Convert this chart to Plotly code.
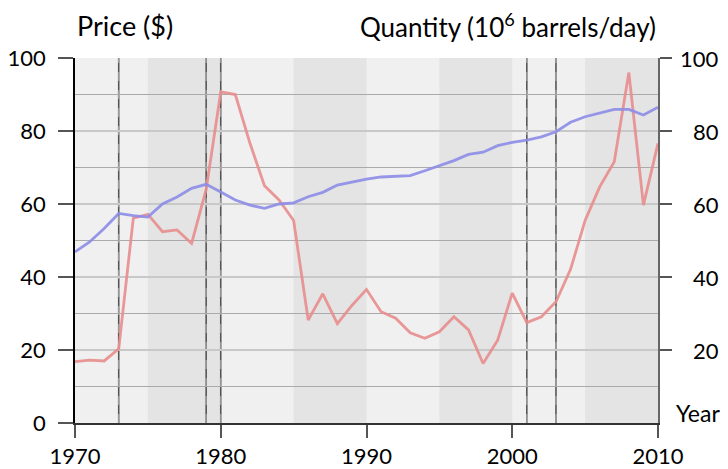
import plotly.graph_objects as go

years = list(range(1970, 2011))
price = [16.8, 17.2, 17.0, 20.3, 56.1, 57.2, 52.4, 52.9, 49.2, 64.0,
         90.7, 90.0, 76.7, 65.0, 61.1, 55.5, 28.2, 35.4, 27.2, 32.2,
         36.6, 30.5, 28.7, 24.7, 23.2, 25.0, 29.1, 25.5, 16.3, 22.7,
         35.6, 27.5, 29.1, 33.2, 42.1, 55.5, 64.7, 71.6, 96.0, 59.7,
         76.6]
quantity = [46.9, 49.6, 53.3, 57.4, 56.8, 56.4, 60.0, 61.9, 64.3, 65.4,
            63.3, 61.1, 59.7, 58.8, 60.0, 60.3, 62.0, 63.2, 65.2, 66.1,
            66.8, 67.4, 67.6, 67.8, 69.1, 70.5, 71.9, 73.6, 74.2, 76.0,
            76.9, 77.5, 78.4, 79.8, 82.4, 83.9, 85.0, 85.9, 85.9, 84.4,
            86.5]
band_starts = [1975, 1985, 1995, 2005]
band_width = 5
events = [1973, 1979, 1980, 2001, 2003]
y_ticks = [0, 20, 40, 60, 80, 100]
right_ticks = [20, 40, 60, 80, 100]
x_ticks = [1970, 1980, 1990, 2000, 2010]

FONT = "Lato"

fig = go.Figure()
fig.add_trace(go.Scatter(x=years, y=price, mode="lines",
                         line=dict(color="rgba(232,140,140,0.9)", width=2.8),
                         showlegend=False))
fig.add_trace(go.Scatter(x=years, y=quantity, mode="lines", yaxis="y2",
                         line=dict(color="rgba(140,140,232,0.9)", width=2.8),
                         showlegend=False))

shapes = []
for b in band_starts:
    shapes.append(dict(type="rect", xref="x", yref="paper", x0=b, x1=b + band_width,
                       y0=0, y1=1, fillcolor="#e4e4e4", line=dict(width=0), layer="below"))
for e in events:
    shapes.append(dict(type="line", xref="x", yref="paper", x0=e, x1=e, y0=0, y1=1,
                       line=dict(color="#555555", width=1.6), layer="between"))
    shapes.append(dict(type="line", xref="x", yref="paper", x0=e, x1=e, y0=0, y1=1,
                       line=dict(color="white", width=0.5, dash="dash"), layer="between"))

annotations = [
    dict(text="Price ($)", xref="paper", yref="paper", x=0, y=1.0, yshift=33,
         xanchor="left", yanchor="middle", showarrow=False,
         font=dict(size=27, color="black", family=FONT)),
    dict(text="Quantity (10<sup>6</sup> barrels/day)", xref="paper", yref="paper",
         x=1, y=1.0, yshift=33, xanchor="right", yanchor="middle", showarrow=False,
         font=dict(size=26, color="black", family=FONT)),
    dict(text="Year", xref="paper", yref="paper", x=1, y=0, xshift=64, yshift=10,
         xanchor="right", yanchor="middle", showarrow=False,
         font=dict(size=23, color="black", family=FONT)),
]
for t in right_ticks:
    annotations.append(dict(text=str(t), xref="paper", yref="y2", x=1, y=t,
                            xshift=63, xanchor="right", yanchor="middle", showarrow=False,
                            font=dict(size=22, color="black", family=FONT)))

# the page body adds an 8px offset, so the figure is sized to fit the 728x469 window
fig.update_layout(
    width=720, height=461,
    margin=dict(l=67, r=70, t=50, b=46, autoexpand=False),
    paper_bgcolor="white", plot_bgcolor="#f0f0f0",
    font=dict(family=FONT, size=22, color="black"),
    shapes=shapes, annotations=annotations,
    xaxis=dict(range=[1970, 2010], tickvals=x_ticks, ticks="outside", ticklen=13,
               tickwidth=1.5, tickcolor="#555555", showgrid=False, zeroline=False,
               showline=True, linecolor="#333333", linewidth=1.5, automargin=False,
               tickfont=dict(size=22, family=FONT, color="black")),
    yaxis=dict(range=[0, 100], tickvals=y_ticks, ticks="outside", ticklen=15,
               tickwidth=1.5, tickcolor="#555555", showline=True, linecolor="black",
               linewidth=1.5, zeroline=False, gridcolor="#c8c8c8", gridwidth=2,
               ticklabelstandoff=8, automargin=False,
               minor=dict(dtick=10, showgrid=True, gridcolor="#aaaaaa", gridwidth=1,
                          ticks=""),
               tickfont=dict(size=22, family=FONT, color="black")),
    yaxis2=dict(range=[0, 100], overlaying="y", side="right", tickvals=right_ticks,
                ticks="outside", ticklen=12, tickwidth=1.5, tickcolor="#555555",
                showline=True, linecolor="#666666", linewidth=1.5, showgrid=False,
                zeroline=False, showticklabels=False, automargin=False),
)

fig.write_html("out.html")
